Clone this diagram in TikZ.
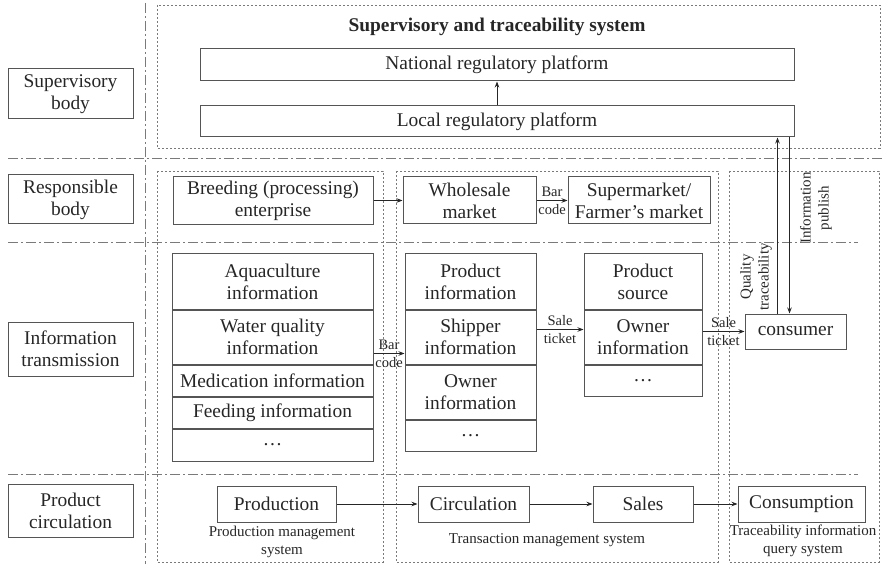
\documentclass[tikz,border=0pt]{standalone}
\usepackage{fontspec}
\setmainfont{Liberation Serif}
\usetikzlibrary{arrows.meta,calc}
\definecolor{edge}{HTML}{555555}
\definecolor{ink}{HTML}{262626}
\definecolor{guide}{HTML}{7A7A7A}
\tikzset{
  box/.style={draw=edge, line width=1pt, inner sep=0pt, align=center, text=ink,
    font=\fontsize{19.4}{22}\selectfont},
  small/.style={inner sep=0pt, align=center, text=ink, font=\fontsize{15}{18}\selectfont},
  tag/.style={inner sep=0pt, anchor=base, text=ink, font=\fontsize{14.5}{16}\selectfont},
  title/.style={inner sep=0pt, text=ink, font=\fontsize{19.4}{22}\selectfont\bfseries},
  arr/.style={draw=ink, line width=0.8pt, -{Stealth[length=6pt,width=4.5pt]}},
  lane/.style={draw=guide, line width=0.9pt, dash pattern=on 10pt off 3pt on 2pt off 3pt},
  region/.style={draw=guide, line width=0.9pt, dash pattern=on 2.2pt off 1.8pt},
}
\begin{document}
\begin{tikzpicture}[x=1pt,y=-1pt]
\useasboundingbox (0,0) rectangle (884,564);

% lane separators
\draw[lane] (145,3) -- (145,564);
\draw[lane] (8,158) -- (884,158);
\draw[lane] (8,242) -- (858,242);
\draw[lane] (8,474) -- (858,474);

% dotted system regions
\draw[region] (157,5) rectangle (880,148);
\draw[region] (157,171) rectangle (383,562);
\draw[region] (396,171) rectangle (718,562);
\draw[region] (729,171) rectangle (879,562);

% row headings
\node[box, minimum width=125pt, minimum height=50pt] (supb) at (70.5,94) {Supervisory\\body};
\node[box, minimum width=125pt, minimum height=49pt] (resb) at (70.5,199.5) {Responsible\\body};
\node[box, minimum width=125pt, minimum height=54pt] (infb) at (70.5,349) {Information\\transmission};
\node[box, minimum width=125pt, minimum height=53pt] (cirb) at (70.5,510.5) {Product\\circulation};

% supervisory platforms
\node[title] (sys) at (497,27) {Supervisory and traceability system};
\node[box, minimum width=594pt, minimum height=32pt] (nat) at (497,65) {National regulatory platform};
\node[box, minimum width=594pt, minimum height=31pt] (loc) at (497,121.5) {Local regulatory platform};
\draw[arr] (loc.north) -- (nat.south);

% responsible bodies
\node[box, minimum width=200pt, minimum height=48pt] (breed) at (273,201) {Breeding (processing)\\enterprise};
\node[box, minimum width=133pt, minimum height=47pt] (whole) at (469.5,200.5) {Wholesale\\market};
\node[box, minimum width=142pt, minimum height=47pt] (superm) at (639,200.5) {Supermarket/\\Farmer's market};
\draw[arr] (breed.east |- whole.west) -- (whole.west);
\draw[arr] (whole.east) -- (superm.west);
\node[tag] (bc1) at ($(whole.east)!0.5!(superm.west)+(0,-4)$) {Bar};
\node[tag] (bc2) at ($(whole.east)!0.5!(superm.west)+(0,14)$) {code};

% production information stack
\node[box, minimum width=201pt, minimum height=55pt] (aqua) at (272.5,281.5) {Aquaculture\\information};
\node[box, minimum width=201pt, minimum height=54pt, anchor=north] (water) at (aqua.south) {Water quality\\information};
\node[box, minimum width=201pt, minimum height=31pt, anchor=north] (med) at (water.south) {Medication information};
\node[box, minimum width=201pt, minimum height=31pt, anchor=north] (feed) at (med.south) {Feeding information};
\node[box, minimum width=201pt, minimum height=32pt, anchor=north] (more1) at (feed.south) {\dots};

% transaction information stack
\node[box, minimum width=131pt, minimum height=55pt] (prod2) at (470.5,281.5) {Product\\information};
\node[box, minimum width=131pt, minimum height=54pt, anchor=north] (ship) at (prod2.south) {Shipper\\information};
\node[box, minimum width=131pt, minimum height=54pt, anchor=north] (own2) at (ship.south) {Owner\\information};
\node[box, minimum width=131pt, minimum height=31pt, anchor=north] (more2) at (own2.south) {\dots};

% sales information stack
\node[box, minimum width=118pt, minimum height=55pt] (src) at (643,281.5) {Product\\source};
\node[box, minimum width=118pt, minimum height=54pt, anchor=north] (own3) at (src.south) {Owner\\information};
\node[box, minimum width=118pt, minimum height=31pt, anchor=north] (more3) at (own3.south) {\dots};

% consumer
\node[box, minimum width=101pt, minimum height=35pt] (cons) at (795.5,331.5) {consumer};

% information flow
\coordinate (bcs) at ($(water.south east)+(0,-11)$);
\draw[arr] (bcs) -- (bcs -| ship.west);
\node[tag] (bc3) at ($(bcs)!0.5!(bcs -| ship.west)+(0,-4)$) {Bar};
\node[tag] (bc4) at ($(bcs)!0.5!(bcs -| ship.west)+(0,14)$) {code};

\coordinate (st1) at ($(ship.north east)+(0,20)$);
\draw[arr] (st1) -- (st1 -| own3.west);
\node[tag] (st1a) at ($(st1)!0.5!(st1 -| own3.west)+(0,-4)$) {Sale};
\node[tag] (st1b) at ($(st1)!0.5!(st1 -| own3.west)+(0,14)$) {ticket};

\draw[arr] (own3.east |- cons.west) -- (cons.west);
\node[tag] (st2a) at ($(own3.east |- cons.west)!0.5!(cons.west)+(0,-4)$) {Sale};
\node[tag] (st2b) at ($(own3.east |- cons.west)!0.5!(cons.west)+(0,14)$) {ticket};

% feedback between consumer and local platform
\coordinate (qt) at ($(cons.north west)+(33,0)$);
\coordinate (ip) at ($(cons.north west)+(45,0)$);
\draw[arr] (qt) -- (qt |- loc.south);
\draw[arr] (ip |- loc.south) -- (ip);
\node[small, rotate=90] (qtl) at (756,277) {Quality\\traceability};
\node[small, rotate=90] (ipl) at (816,208) {Information\\publish};

% product circulation
\node[box, minimum width=119pt, minimum height=36pt] (pro) at (276.5,504) {Production};
\node[box, minimum width=111pt, minimum height=36pt] (circ) at (473.5,504) {Circulation};
\node[box, minimum width=100pt, minimum height=36pt] (sale) at (643,504) {Sales};
\node[box, minimum width=127pt, minimum height=36pt] (cnsm) at (801.5,504) {Consumption};
\draw[arr] (pro) -- (circ);
\draw[arr] (circ) -- (sale);
\draw[arr] (sale) -- (cnsm);
\node[small] (pms) at (282,542) {Production management\\system};
\node[small] (tms) at (547,540) {Transaction management system};
\node[small] (tiq) at (803,541) {Traceability information\\query system};
\end{tikzpicture}
\end{document}
